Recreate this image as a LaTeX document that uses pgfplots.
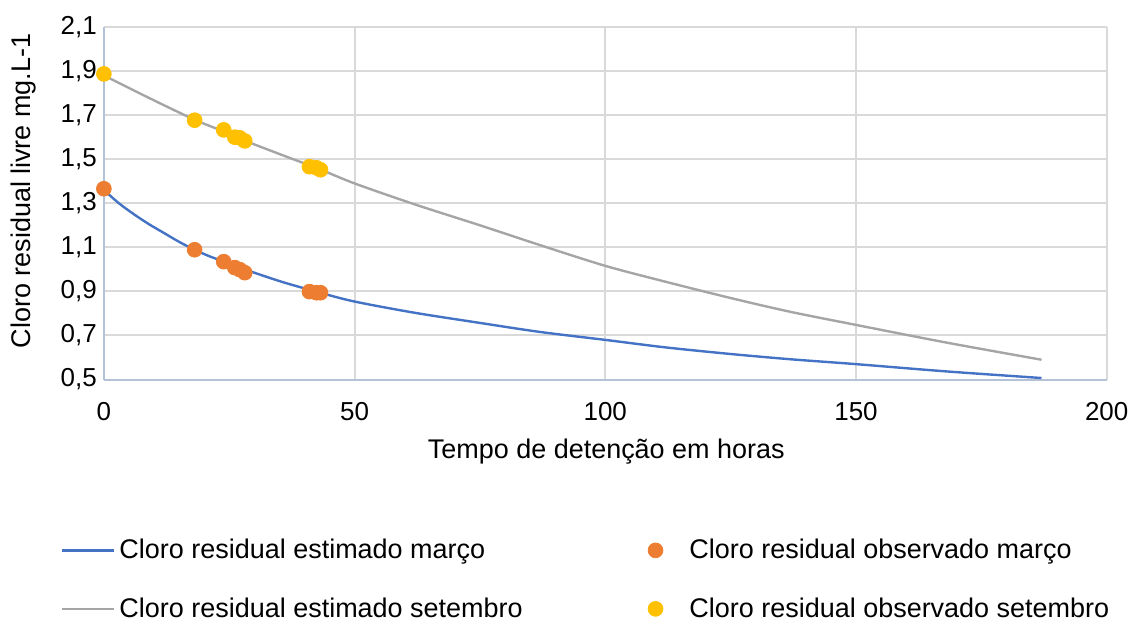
\documentclass[border=0pt]{standalone}
\usepackage{pgfplots}
\pgfplotsset{compat=1.18}
\usepackage{fontspec}
\setmainfont{Liberation Sans}

\definecolor{linblue}{HTML}{4472C4}
\definecolor{lingray}{HTML}{A5A5A5}
\definecolor{obsorange}{HTML}{ED7D31}
\definecolor{obsyellow}{HTML}{FFC000}
\definecolor{gridcol}{HTML}{D9D9D9}
\definecolor{axiscol}{HTML}{B4C2D8}

\pgfplotsset{
  lineleg/.style={legend image code/.code={\draw[##1] (0pt,0pt) -- (26pt,0pt);}},
  markleg/.style={legend image code/.code={%
      \path[draw=none, fill=none] (-4pt,0pt) rectangle (15pt,0.1pt);
      \draw[##1] plot coordinates {(0pt,0pt)};}},
}

\begin{document}
\begin{tikzpicture}
\begin{axis}[
    name=ax,
    scale only axis,
    width=502pt, height=176.5pt,
    xmin=0, xmax=200, ymin=0.5, ymax=2.1,
    xtick={0,50,100,150,200},
    ytick={0.5,0.7,0.9,1.1,1.3,1.5,1.7,1.9,2.1},
    grid=major,
    major grid style={draw=gridcol, line width=1pt},
    major tick length=0pt,
    axis x line*=bottom, axis y line*=left,
    axis line style={-, draw=axiscol, line width=1pt},
    font=\fontsize{13.5}{16}\selectfont,
    ticklabel style={font=\fontsize{13}{15}\selectfont},
    /pgf/number format/assume math mode=true,
    yticklabel style={/pgf/number format/.cd, fixed, fixed zerofill, precision=1, use comma},
    xticklabel style={yshift=-8pt},
    xlabel={Tempo de detenção em horas},
    ylabel={Cloro residual livre mg.L-1},
    xlabel style={at={(axis description cs:0.501,-0.204)}, anchor=center},
    ylabel style={at={(axis description cs:-0.08,0.535)}, anchor=center},
    legend columns=2,
    legend cell align=left,
    legend style={draw=none, fill=none, inner sep=0pt,
        at={(axis description cs:-0.043,-0.44)}, anchor=north west,
        font=\fontsize{13.5}{16}\selectfont,
        row sep=14pt,
        /tikz/every even column/.append style={column sep=60.5pt}},
]
\addplot[linblue, line width=1.2pt, smooth, lineleg]
  coordinates {
    (0,1.36) (3,1.30) (6,1.25) (9,1.205) (12,1.165) (15,1.125) (18,1.09)
    (21,1.06) (24,1.035) (30,0.985) (36,0.94) (43,0.895) (50,0.854)
    (62,0.803) (75,0.757) (87,0.716) (100,0.68) (112,0.646) (125,0.616)
    (137,0.592) (150,0.570) (168,0.537) (187,0.507)
  };
\addlegendentry{Cloro residual estimado março}
\addplot[only marks, mark=*, mark size=3.7pt, color=obsorange,
    mark options={fill=obsorange, draw=obsorange}, markleg]
  coordinates {
    (0,1.366) (18.1,1.089) (23.9,1.035) (26.1,1.008) (27.1,0.999)
    (28.1,0.985) (41.0,0.899) (42.4,0.894) (43.2,0.894)
  };
\addlegendentry{Cloro residual observado março}
\addplot[lingray, line width=1.2pt, smooth, lineleg]
  coordinates {
    (0,1.88) (9,1.778) (18,1.68) (24,1.625) (28,1.585) (36,1.515)
    (43,1.455) (50,1.39) (62,1.295) (75,1.20) (87,1.11) (100,1.016)
    (112,0.944) (125,0.87) (137,0.807) (150,0.748) (168,0.668) (187,0.59)
  };
\addlegendentry{Cloro residual estimado setembro}
\addplot[only marks, mark=*, mark size=3.7pt, color=obsyellow,
    mark options={fill=obsyellow, draw=obsyellow}, markleg]
  coordinates {
    (0,1.887) (18.1,1.677) (23.9,1.633) (26.1,1.60) (27.1,1.597)
    (28.1,1.583) (41.0,1.466) (42.4,1.461) (43.2,1.452)
  };
\addlegendentry{Cloro residual observado setembro}
\end{axis}
\path (ax.south west) ++(-52pt,-118.5pt) rectangle ++(567.5pt,308.5pt);
\end{tikzpicture}
\end{document}
